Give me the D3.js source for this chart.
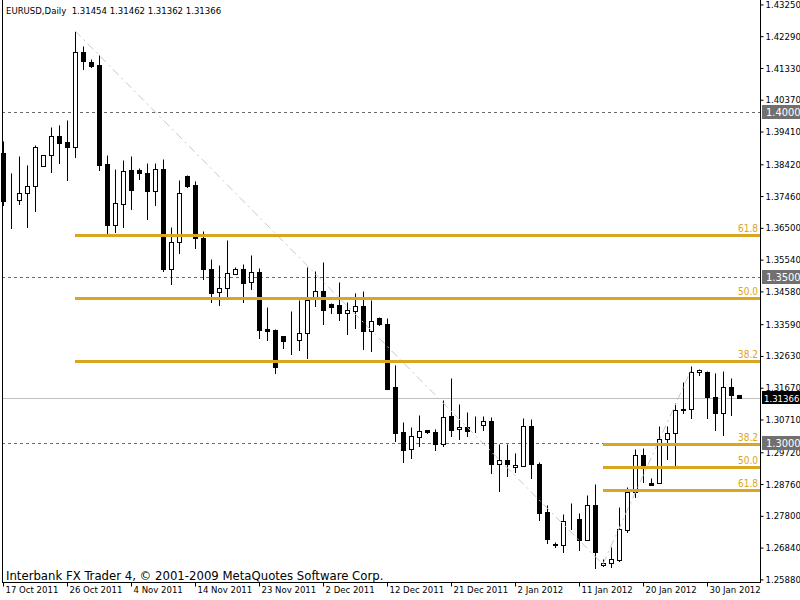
<!DOCTYPE html>
<html><head><meta charset="utf-8">
<script src="https://cdn.jsdelivr.net/npm/d3@7"></script>
<style>
body{margin:0;background:#fff}
svg{display:block}
text{font-family:"DejaVu Sans Condensed","DejaVu Sans",sans-serif;font-stretch:condensed}
</style>
</head><body>
<svg id="c" width="800" height="600"></svg>
<script>
// ---- data (EURUSD daily, bar 0 = 17 Oct 2011) ----
const opens  = [1.3877,1.3733,1.3733,1.3754,1.3775,1.3838,1.3869,1.3927,1.3908,1.3893,
                1.4180,1.4151,1.4141,1.3842,1.3659,1.3723,1.3825,1.3826,1.3816,1.3762,
                1.3827,1.3525,1.3606,1.3808,1.3779,1.3620,1.3525,1.3455,1.3467,1.3510,
                1.3525,1.3485,1.3516,1.3343,1.3341,1.3323,1.3310,1.3310,1.3331,1.3442,
                1.3458,1.3421,1.3417,1.3394,1.3400,1.3414,1.3339,1.3378,1.3360,1.3168,
                1.3032,1.2981,1.3017,1.3038,1.3032,1.2996,1.3081,1.3041,1.3048,1.3053,
                1.3053,1.3066,1.2936,1.2948,1.2927,1.2930,1.3050,1.2936,1.2792,1.2695,
                1.2691,1.2770,1.2770,1.2706,1.2813,1.2631,1.2637,1.2647,1.2737,1.2851,
                1.2963,1.2878,1.2878,1.3011,1.3030,1.3102,1.3102,1.3214,1.3214,1.3138,
                1.3090,1.3168,1.31454];
const highs  = [1.3912,1.3816,1.3867,1.3840,1.3899,1.3870,1.3955,1.3961,1.3976,1.4245,
                1.4199,1.4160,1.4171,1.3870,1.3828,1.3855,1.3867,1.3831,1.3845,1.3845,
                1.3858,1.3652,1.3795,1.3811,1.3792,1.3640,1.3556,1.3537,1.3613,1.3532,
                1.3540,1.3568,1.3529,1.3411,1.3344,1.3323,1.3399,1.3432,1.3532,1.3520,
                1.3547,1.3422,1.3486,1.3426,1.3452,1.3459,1.3432,1.3380,1.3378,1.3236,
                1.3063,1.3048,1.3085,1.3038,1.3042,1.3130,1.3196,1.3118,1.3094,1.3081,
                1.3081,1.3078,1.2996,1.2997,1.2969,1.3075,1.3073,1.2942,1.2813,1.2702,
                1.2785,1.2819,1.2788,1.2842,1.2876,1.2649,1.2687,1.2806,1.2867,1.2982,
                1.2984,1.2895,1.3051,1.3051,1.3122,1.3184,1.3232,1.3223,1.3218,1.3211,
                1.3218,1.3196,1.31462];
const lows   = [1.3719,1.3650,1.3723,1.3653,1.3702,1.3838,1.3820,1.3847,1.3795,1.3863,
                1.4131,1.4137,1.3826,1.3625,1.3637,1.3653,1.3708,1.3798,1.3677,1.3719,
                1.3521,1.3480,1.3575,1.3774,1.3590,1.3495,1.3427,1.3418,1.3445,1.3510,
                1.3427,1.3466,1.3318,1.3311,1.3211,1.3288,1.3270,1.3281,1.3258,1.3415,
                1.3360,1.3394,1.3372,1.3330,1.3348,1.3285,1.3279,1.3356,1.3162,1.3006,
                1.2944,1.2956,1.2992,1.3029,1.2980,1.2992,1.3022,1.3013,1.3022,1.3034,
                1.3040,1.2910,1.2856,1.2901,1.2912,1.2930,1.2895,1.2768,1.2698,1.2685,
                1.2671,1.2741,1.2677,1.2706,1.2621,1.2628,1.2626,1.2644,1.2732,1.2838,
                1.2883,1.2874,1.2878,1.2951,1.2931,1.3090,1.3075,1.3205,1.3075,1.3039,
                1.3023,1.3084,1.31362];
const closes = [1.3732,1.3734,1.3754,1.3776,1.3893,1.3869,1.3927,1.3907,1.3893,1.4180,
                1.4155,1.4140,1.3841,1.3659,1.3725,1.3822,1.3764,1.3816,1.3762,1.3827,
                1.3525,1.3606,1.3754,1.3777,1.3618,1.3525,1.3454,1.3467,1.3513,1.3525,
                1.3484,1.3516,1.3342,1.3339,1.3231,1.3309,1.3310,1.3332,1.3432,1.3458,
                1.3403,1.3410,1.3394,1.3401,1.3414,1.3339,1.3368,1.3359,1.3163,1.3031,
                1.2980,1.3020,1.3035,1.3032,1.2996,1.3078,1.3040,1.3048,1.3037,1.3054,
                1.3066,1.2936,1.2948,1.2937,1.2934,1.3050,1.2936,1.2788,1.2711,1.2691,
                1.2763,1.2771,1.2706,1.2812,1.2672,1.2637,1.2649,1.2739,1.2851,1.2963,
                1.2928,1.2874,1.3011,1.3029,1.3099,1.3099,1.3214,1.3221,1.3138,1.3090,
                1.3168,1.3144,1.31366];

const dateTickBars   = [0, 8, 16, 24, 32, 40, 48, 56, 64, 72, 80, 88];
const dateTickLabels = ["17 Oct 2011","26 Oct 2011","4 Nov 2011","14 Nov 2011","23 Nov 2011",
                        "2 Dec 2011","12 Dec 2011","21 Dec 2011","2 Jan 2012","11 Jan 2012",
                        "20 Jan 2012","30 Jan 2012"];
const priceTicks = [1.43250,1.42290,1.41330,1.40370,1.39410,1.38420,1.37460,1.36500,1.35540,
                    1.34580,1.33590,1.32630,1.31670,1.30710,1.29720,1.28760,1.27800,1.26840,1.25880];
const markedLevels = [1.4000, 1.3500, 1.3000];
const markedLabels = ["1.4000", "1.3500", "1.3000"];
const fibRatios = [38.2, 50.0, 61.8];
// fib 1: drawn from high (bar, price) down to low (bar, price)
const fib1From = [9, 1.4245];
const fib1To   = [75, 1.2633];
// fib 2: drawn from low up to high
const fib2From = [75, 1.2635];
const fib2To   = [86, 1.3220];
const symbolTitle = "EURUSD,Daily";
const copyright = "Interbank FX Trader 4, \u00a9 2001-2009 MetaQuotes Software Corp.";

// ---- drawing ----
const svg = d3.select("#c");
const N = opens.length;
const plotRight = 760, plotBottom = 582, plotLeft = 2;
const x = d3.scaleLinear().domain([0, N - 1]).range([3, 3 + 8 * (N - 1)]);
const y = d3.scaleLinear().domain([1.30, 1.40]).range([443, 112]);
const py = v => Math.round(y(v)) + 0.5;
const GOLD = "#daa520";

// background horizontal level lines (dashed)
svg.append("g").selectAll("line").data(markedLevels).join("line")
  .attr("x1", plotLeft).attr("x2", plotRight)
  .attr("y1", d => py(d)).attr("y2", d => py(d))
  .attr("stroke", "#6a6a6a").attr("stroke-width", 1).attr("stroke-dasharray", "3,3");

// current price line
const last = closes[N - 1];
svg.append("line").attr("x1", plotLeft).attr("x2", plotRight)
  .attr("y1", py(last)).attr("y2", py(last))
  .attr("stroke", "#c0c0c0").attr("stroke-width", 1);

// candles
const idx = d3.range(N);
const cg = svg.append("g");
cg.selectAll("line.wick").data(idx).join("line").attr("class", "wick")
  .attr("x1", i => Math.round(x(i)) + 0.5).attr("x2", i => Math.round(x(i)) + 0.5)
  .attr("y1", i => py(highs[i])).attr("y2", i => py(lows[i]) + 0.5)
  .attr("stroke", "#000").attr("stroke-width", 1);
cg.selectAll("rect.body").data(idx).join("rect").attr("class", "body")
  .attr("x", i => Math.round(x(i)) - 2 + 0.5)
  .attr("width", 4)
  .attr("y", i => py(Math.max(opens[i], closes[i])))
  .attr("height", i => Math.max(0, py(Math.min(opens[i], closes[i])) - py(Math.max(opens[i], closes[i]))))
  .attr("fill", i => closes[i] >= opens[i] ? "#fff" : "#000")
  .attr("stroke", "#000").attr("stroke-width", 1);

// fibonacci diagonals
function fibDiag(a, b) {
  svg.append("line")
    .attr("x1", x(a[0])).attr("y1", y(a[1])).attr("x2", x(b[0])).attr("y2", y(b[1]))
    .attr("stroke", "#c8c8c8").attr("stroke-width", 1).attr("stroke-dasharray", "8,4,2,4");
}
fibDiag(fib1From, fib1To);
fibDiag(fib2From, fib2To);

// fibonacci levels
function fibLevels(a, b) {
  const hi = Math.max(a[1], b[1]), lo = Math.min(a[1], b[1]);
  const downward = a[1] > b[1]; // drawn from high to low: levels measured up from low
  const startX = Math.round(x(Math.min(a[0], b[0])));
  const g = svg.append("g");
  fibRatios.forEach(r => {
    const p = downward ? lo + (r / 100) * (hi - lo) : hi - (r / 100) * (hi - lo);
    const yy = Math.round(y(p));
    g.append("rect").attr("x", startX).attr("y", yy - 1).attr("width", plotRight - startX).attr("height", 3)
      .attr("fill", GOLD);
    g.append("text").attr("x", 758).attr("y", yy - 3).attr("text-anchor", "end")
      .attr("font-size", 10).attr("fill", GOLD).text(r.toFixed(1));
  });
}
fibLevels(fib1From, fib1To);
fibLevels(fib2From, fib2To);

// frame lines
svg.append("line").attr("x1", plotLeft + 0.5).attr("x2", plotLeft + 0.5).attr("y1", 0).attr("y2", plotBottom + 0.5)
  .attr("stroke", "#000");

// right price axis
const yAxis = d3.axisRight(y).tickValues(priceTicks).tickSize(3).tickPadding(2)
  .tickFormat(d3.format(".5f"));
const ya = svg.append("g").attr("transform", `translate(${plotRight + 0.5},0)`).call(yAxis);
ya.select(".domain").remove();
ya.selectAll(".tick line").attr("stroke", "#000");
ya.selectAll(".tick text").attr("font-size", 9.5).attr("fill", "#000")
  .attr("font-family", "DejaVu Sans Condensed, DejaVu Sans, sans-serif");
svg.append("line").attr("x1", plotRight + 0.5).attr("x2", plotRight + 0.5).attr("y1", 0).attr("y2", plotBottom + 0.5)
  .attr("stroke", "#000");

// bottom date axis
const xAxis = d3.axisBottom(x).tickValues(dateTickBars).tickSize(4)
  .tickFormat((d, i) => dateTickLabels[i]);
const xa = svg.append("g").attr("transform", `translate(0,${plotBottom + 0.5})`).call(xAxis);
xa.select(".domain").remove();
xa.selectAll(".tick line").attr("stroke", "#000");
xa.selectAll(".tick text").attr("text-anchor", "start").attr("x", 2).attr("y", 4).attr("dy", "0.71em")
  .attr("font-size", 9.5).attr("fill", "#000")
  .attr("font-family", "DejaVu Sans Condensed, DejaVu Sans, sans-serif");
svg.append("line").attr("x1", plotLeft).attr("x2", plotRight + 1).attr("y1", plotBottom + 0.5).attr("y2", plotBottom + 0.5)
  .attr("stroke", "#000");

// marked level boxes
markedLevels.forEach((p, i) => {
  const yy = Math.round(y(p));
  svg.append("rect").attr("x", 762).attr("y", yy - 7).attr("width", 38).attr("height", 14).attr("fill", "#707070");
  svg.append("text").attr("x", 766).attr("y", yy + 4).attr("font-size", 11).attr("fill", "#fff").text(markedLabels[i]);
});
// current price box
{
  const yy = Math.round(y(last));
  svg.append("rect").attr("x", 762).attr("y", yy - 7).attr("width", 38).attr("height", 13).attr("fill", "#000");
  svg.append("text").attr("x", 764).attr("y", yy + 3.5).attr("font-size", 9.5).attr("fill", "#fff")
    .text(d3.format(".5f")(last));
}

// header and copyright
svg.append("text").attr("x", 6).attr("y", 14).attr("font-size", 9.5).attr("fill", "#000")
  .text(`${symbolTitle}  ${[opens[N-1], highs[N-1], lows[N-1], closes[N-1]].map(d3.format(".5f")).join(" ")}`)
  .attr("xml:space", "preserve").style("white-space", "pre");
svg.append("text").attr("x", 6).attr("y", 580).attr("font-size", 13).attr("fill", "#000").text(copyright);
</script>
</body></html>
